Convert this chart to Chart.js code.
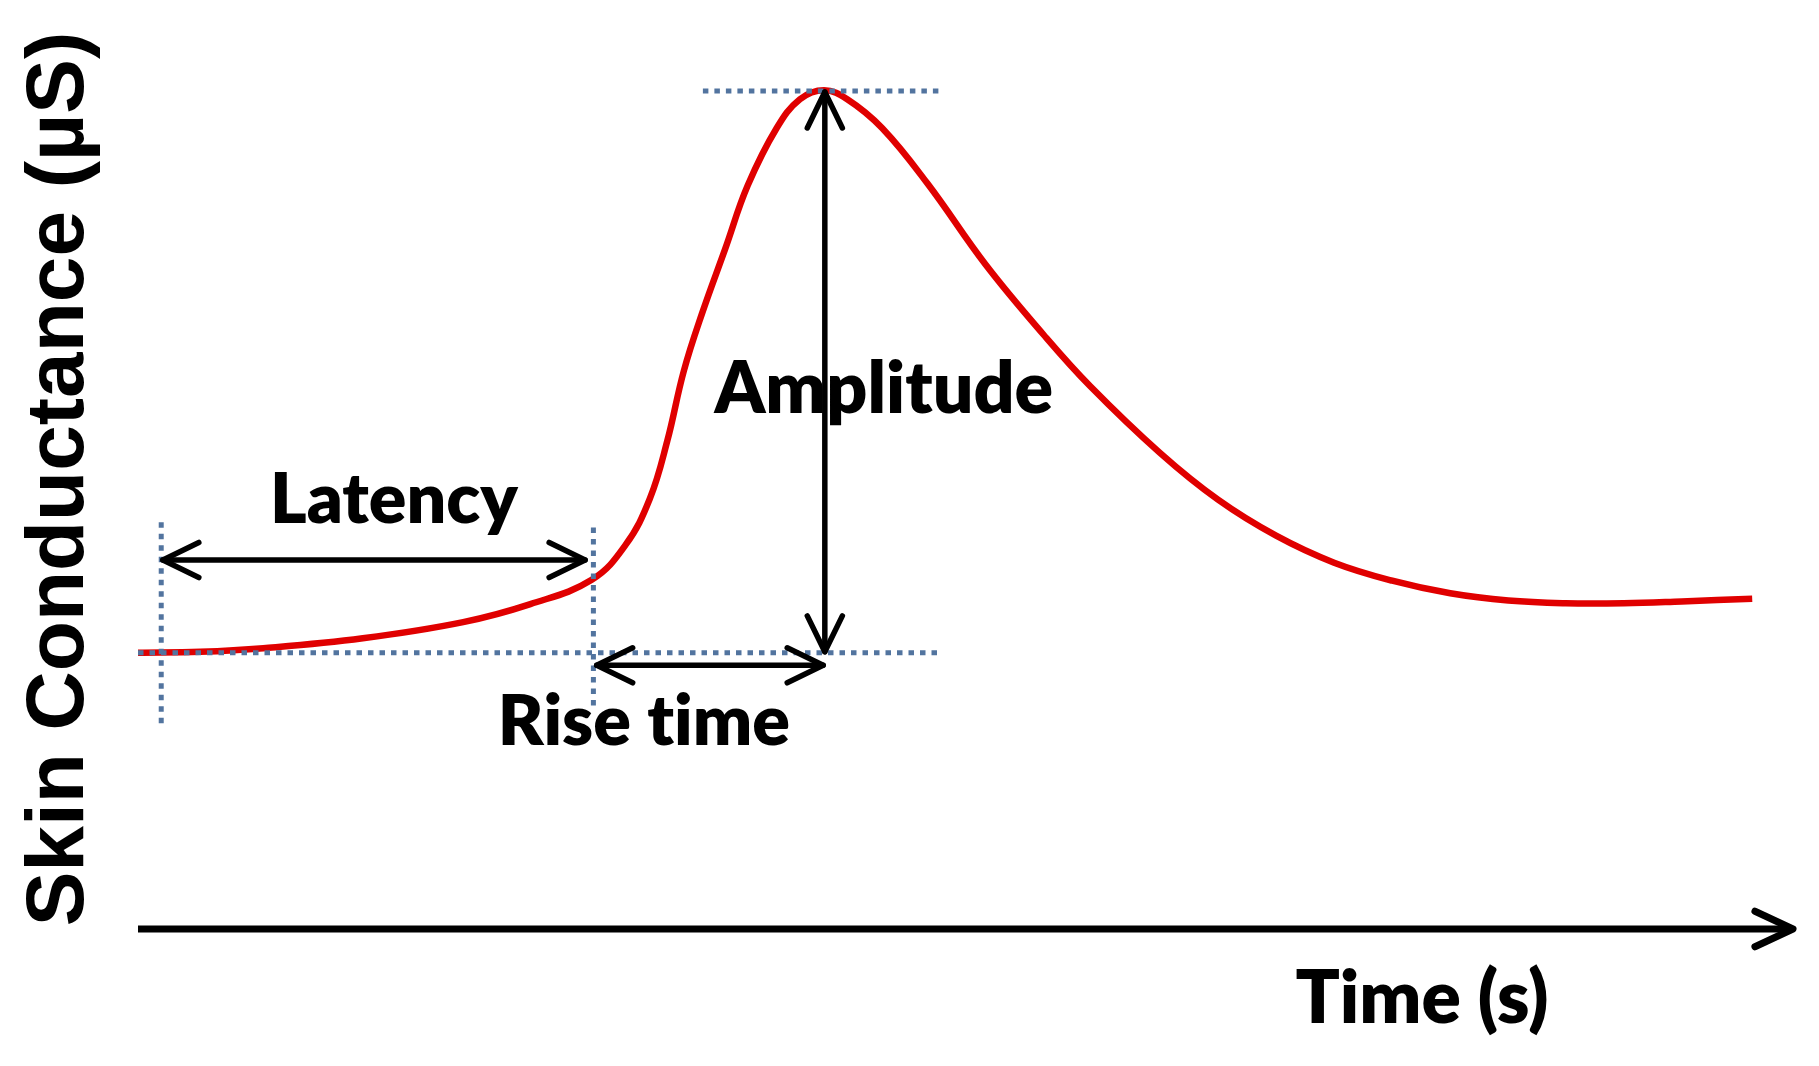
<!DOCTYPE html>
<html><head><meta charset="utf-8">
<script src="https://cdn.jsdelivr.net/npm/chart.js@4.4.1/dist/chart.umd.min.js"></script>
<style>html,body{margin:0;padding:0;background:#fff;overflow:hidden}canvas{display:block}</style>
</head><body>
<canvas id="c" width="1819" height="1066"></canvas>
<script>
// ---- data ----
const timeS = [0.00, 0.75, 1.51, 2.71, 3.92, 4.73, 5.47, 5.88, 6.17, 6.38, 6.58, 6.80, 7.08, 7.35, 7.70, 7.98, 8.27, 8.55, 8.97, 9.52, 10.22, 10.92, 11.48, 12.32, 13.02, 13.72, 14.42, 15.12, 15.82, 16.52, 17.21, 17.91, 18.61, 19.46];
const conductance = [3.07, 3.08, 3.12, 3.23, 3.41, 3.61, 3.88, 4.27, 4.78, 5.42, 6.20, 6.84, 7.56, 8.26, 8.90, 9.22, 9.32, 9.22, 8.90, 8.28, 7.38, 6.60, 6.03, 5.29, 4.77, 4.37, 4.07, 3.87, 3.73, 3.65, 3.62, 3.62, 3.64, 3.67];
const xRange = [0, 20];
const yRange = [0, 10];
const markerTimes = [0.28, 5.49, 8.28];      // stimulus, response onset, peak
const markerLevels = [3.07, 9.31];           // baseline, peak
const guideEnds = [6.81, 9.65];              // peak guide start, guides end (time)
const stimGuide = [2.27, 4.52];              // vertical guide at stimulus (levels)
const onsetGuide = [2.47, 4.46];             // vertical guide at onset (levels)
const latencySpan = [0.30, 5.39];            // time
const latencyLevel = [4.10];
const riseSpan = [5.53, 8.26];               // time
const riseLevel = [2.93];
const amplitudeSpan = [3.08, 9.30];          // level
const annotationLabels = ['Latency', 'Rise time', 'Amplitude'];
const axisTitles = ['Time (s)', 'Skin Conductance (\u00b5S)'];

// ---- drawing helpers ----
function arrowHead(ctx, tx, ty, ux, uy, len, ang) {
  const c = Math.cos(ang), s = Math.sin(ang);
  const ax = -(ux * c - uy * s), ay = -(ux * s + uy * c);
  const bx = -(ux * c + uy * s), by = -(-ux * s + uy * c);
  ctx.beginPath();
  ctx.moveTo(tx + ax * len, ty + ay * len);
  ctx.lineTo(tx, ty);
  ctx.lineTo(tx + bx * len, ty + by * len);
  ctx.stroke();
}
function doubleArrow(ctx, x1, y1, x2, y2, lw, len, ang) {
  ctx.lineWidth = lw;
  ctx.setLineDash([]);
  ctx.beginPath(); ctx.moveTo(x1, y1); ctx.lineTo(x2, y2); ctx.stroke();
  const d = Math.hypot(x2 - x1, y2 - y1), ux = (x2 - x1) / d, uy = (y2 - y1) / d;
  arrowHead(ctx, x2, y2, ux, uy, len, ang);
  arrowHead(ctx, x1, y1, -ux, -uy, len, ang);
}
function fitText(ctx, text, family, targetW, cx, baseline) {
  ctx.font = '800 100px ' + family;
  const w = ctx.measureText(text).width;
  ctx.font = '800 ' + (100 * targetW / w).toFixed(1) + 'px ' + family;
  ctx.textAlign = 'center';
  ctx.textBaseline = 'alphabetic';
  ctx.fillText(text, cx, baseline);
}
function guide(ctx, x1, y1, x2, y2) {
  ctx.beginPath(); ctx.moveTo(x1, y1); ctx.lineTo(x2, y2); ctx.stroke();
}

const annotations = {
  id: 'annotations',
  afterDatasetsDraw(chart) {
    const { ctx, scales: { x, y } } = chart;
    const X = v => x.getPixelForValue(v), Y = v => y.getPixelForValue(v);
    ctx.save();
    // dotted guide lines
    ctx.strokeStyle = '#52749f';
    ctx.lineWidth = 5;
    ctx.lineCap = 'butt';
    ctx.setLineDash([5.5, 6]);
    guide(ctx, X(xRange[0]), Y(markerLevels[0]), X(guideEnds[1]), Y(markerLevels[0]));
    guide(ctx, X(guideEnds[0]), Y(markerLevels[1]), X(guideEnds[1]), Y(markerLevels[1]));
    guide(ctx, X(markerTimes[0]), Y(stimGuide[1]), X(markerTimes[0]), Y(stimGuide[0]));
    guide(ctx, X(markerTimes[1]), Y(onsetGuide[1]), X(markerTimes[1]), Y(onsetGuide[0]));

    // black double arrows
    ctx.strokeStyle = '#000';
    ctx.lineCap = 'round';
    ctx.lineJoin = 'round';
    const ang = 26 * Math.PI / 180;
    doubleArrow(ctx, X(latencySpan[0]), Y(latencyLevel[0]), X(latencySpan[1]), Y(latencyLevel[0]), 5.5, 40, ang);
    doubleArrow(ctx, X(riseSpan[0]), Y(riseLevel[0]), X(riseSpan[1]), Y(riseLevel[0]), 5.5, 40, ang);
    doubleArrow(ctx, X(markerTimes[2]), Y(amplitudeSpan[1]), X(markerTimes[2]), Y(amplitudeSpan[0]), 5.5, 40, ang);

    // time axis with arrow head
    const y0 = Y(yRange[0]);
    ctx.lineWidth = 7;
    ctx.lineCap = 'butt';
    ctx.beginPath(); ctx.moveTo(x.left, y0); ctx.lineTo(x.right - 4, y0); ctx.stroke();
    ctx.lineCap = 'round';
    arrowHead(ctx, x.right - 4, y0, 1, 0, 42, 25 * Math.PI / 180);

    // labels
    ctx.fillStyle = '#000';
    try { ctx.textRendering = 'optimizeSpeed'; } catch (e) {}
    const fam = 'Lato, "Open Sans", sans-serif';
    const latMid = (X(latencySpan[0]) + X(latencySpan[1])) / 2;
    fitText(ctx, annotationLabels[0], fam, 248, latMid + 20, Y(latencyLevel[0]) - 37);
    const riseMid = (X(riseSpan[0]) + X(riseSpan[1])) / 2;
    fitText(ctx, annotationLabels[1], fam, 292, riseMid - 66, Y(riseLevel[0]) + 80);
    const ampMid = (Y(amplitudeSpan[0]) + Y(amplitudeSpan[1])) / 2;
    fitText(ctx, annotationLabels[2], fam, 339, X(markerTimes[2]) + 59, ampMid + 41);
    fitText(ctx, axisTitles[0], fam, 253, x.right - 375, y0 + 94);
    ctx.restore();
  }
};

new Chart(document.getElementById('c'), {
  type: 'line',
  data: {
    datasets: [{
      data: timeS.map((t, i) => ({ x: t, y: conductance[i] })),
      borderColor: '#e00000',
      borderWidth: 6.5,
      pointRadius: 0,
      tension: 0.4,
      fill: false
    }]
  },
  options: {
    responsive: false,
    devicePixelRatio: 1,
    animation: false,
    layout: { padding: { top: 29, right: 22, bottom: 0, left: 0 } },
    plugins: { legend: { display: false }, tooltip: { enabled: false } },
    scales: {
      x: {
        type: 'linear', min: xRange[0], max: xRange[1], position: 'bottom',
        ticks: { display: false }, grid: { display: false }, border: { display: false },
        afterFit(scale) { scale.height = 137; }
      },
      y: {
        type: 'linear', min: yRange[0], max: yRange[1], position: 'left',
        ticks: { display: false }, grid: { display: false }, border: { display: false },
        title: {
          display: true, text: axisTitles[1], color: '#000',
          font: { family: '"Liberation Sans", Arial, sans-serif', size: 82, weight: 'bold' },
          padding: { top: 11, bottom: 0 }
        },
        afterFit(scale) { scale.width = 138; }
      }
    }
  },
  plugins: [annotations]
});
</script>
</body></html>
